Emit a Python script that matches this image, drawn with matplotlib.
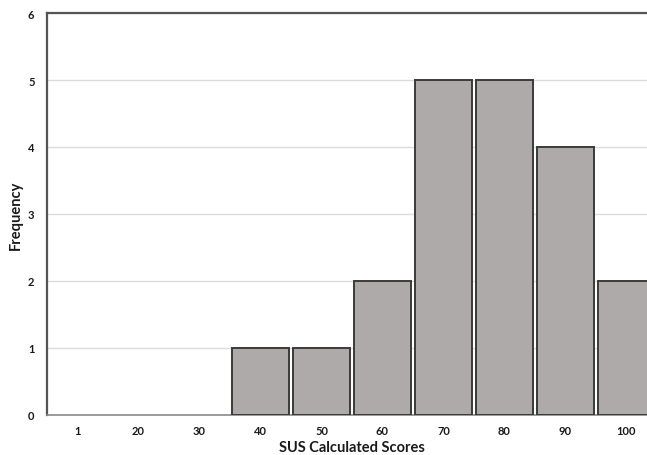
import matplotlib.pyplot as plt
import numpy as np

scores = ["1", "20", "30", "40", "50", "60", "70", "80", "90", "100"]
frequency = [0, 0, 0, 1, 1, 2, 5, 5, 4, 2]
y_ticks = [0, 1, 2, 3, 4, 5, 6]

plt.rcParams["font.family"] = ["Lato", "DejaVu Sans"]

fig = plt.figure(figsize=(6.47, 4.56), dpi=100)
# axes runs past the right edge, as in the original crop
ax = fig.add_axes([47 / 647, 1 - 416 / 456, 610 / 647, (416 - 14) / 456])

x = np.arange(len(scores))
# empty bins get no outline, otherwise the edge shows on the baseline
edge_widths = [1.4 if f > 0 else 0 for f in frequency]
ax.bar(x, frequency, width=0.93, color="#aeaaaa", edgecolor="#3a3a3a", linewidth=edge_widths, zorder=3)

ax.set_xlim(-0.5, len(scores) - 0.5)
ax.set_ylim(0, 6)
ax.set_xticks(x)
ax.set_xticklabels(scores, fontsize=8, fontweight="bold", color="#1a1a1a")
ax.set_yticks(y_ticks)
ax.set_yticklabels([str(v) for v in y_ticks], fontsize=8, fontweight="bold", color="#1a1a1a")
ax.tick_params(length=0)
ax.tick_params(axis="x", pad=7)
ax.tick_params(axis="y", pad=9)

ax.yaxis.grid(True, color="#dcdcdc", linewidth=1.0, zorder=0)
for side in ["top", "left"]:
    ax.spines[side].set_color("#555555")
    ax.spines[side].set_linewidth(1.6)
ax.spines["bottom"].set_color("#8a8a8a")
ax.spines["bottom"].set_linewidth(1.2)
ax.spines["right"].set_visible(False)

ax.set_xlabel("SUS Calculated Scores", fontsize=10.5, fontweight="bold", color="#1a1a1a", labelpad=3)
ax.set_ylabel("Frequency", fontsize=10.5, fontweight="bold", color="#1a1a1a", labelpad=4)

fig.savefig("out.png", dpi=100)
